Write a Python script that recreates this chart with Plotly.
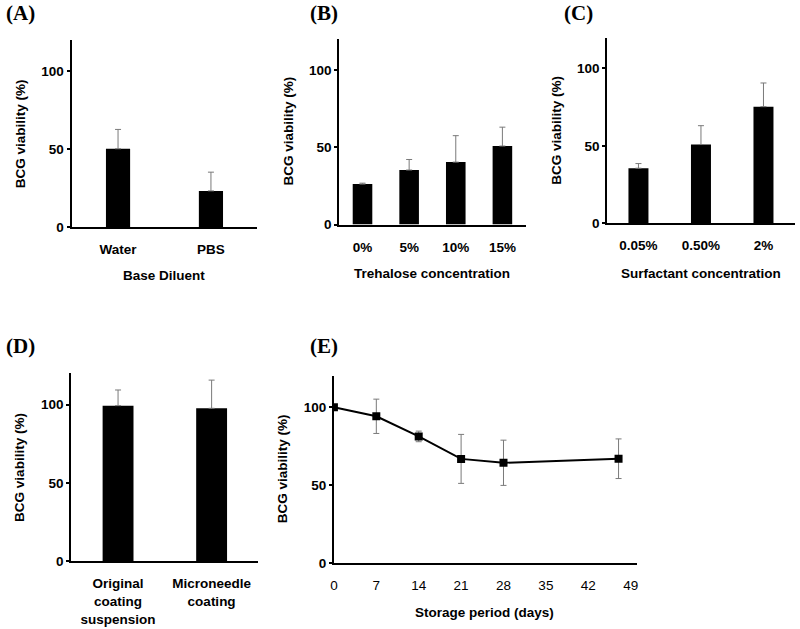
import plotly.graph_objects as go

# ---------------- data ----------------
a_cats = ["Water", "PBS"]
a_vals = [50.2, 23.2]
a_errs = [12.4, 12.0]

b_cats = ["0%", "5%", "10%", "15%"]
b_vals = [26.2, 35.3, 40.4, 50.8]
b_errs = [0.6, 6.8, 17.1, 12.2]

c_cats = ["0.05%", "0.50%", "2%"]
c_vals = [35.5, 50.8, 75.3]
c_errs = [3.0, 12.2, 15.3]

d_cats = ["Original<br>coating<br>suspension", "Microneedle<br>coating"]
d_vals = [99.4, 97.7]
d_errs = [10.0, 18.0]

e_days = [0, 7, 14, 21, 28, 47]
e_vals = [100.0, 94.2, 81.3, 66.9, 64.4, 67.0]
e_errs = [0.5, 11.0, 3.4, 15.7, 14.5, 12.7]

y_ticks = [0, 50, 100]
e_xticks = [0, 7, 14, 21, 28, 35, 42, 49]

W, H = 800, 629
SANS = "Liberation Sans, Arial, sans-serif"
SERIF = "Liberation Serif, Times New Roman, serif"
ERR_COLOR = "#7a7a7a"

def px_x(p):
    return p / W

def px_y(p):
    return 1 - p / H

fig = go.Figure()

panels = [
    ("", a_cats, a_vals, a_errs, 0.26),
    ("2", b_cats, b_vals, b_errs, 0.42),
    ("3", c_cats, c_vals, c_errs, 0.32),
    ("4", d_cats, d_vals, d_errs, 0.33),
]
for suf, cats, vals, errs, bw in panels:
    fig.add_trace(go.Bar(
        x=cats, y=vals, width=bw,
        marker=dict(color="black", line=dict(width=0)),
        error_y=dict(type="data", array=errs, arrayminus=[0] * len(errs),
                     symmetric=False, color=ERR_COLOR, thickness=1, width=3),
        xaxis="x" + suf, yaxis="y" + suf, showlegend=False,
    ))

fig.add_trace(go.Scatter(
    x=e_days, y=e_vals, mode="lines+markers",
    line=dict(color="black", width=2),
    marker=dict(symbol="square", size=8, color="black"),
    error_y=dict(type="data", array=e_errs, color=ERR_COLOR, thickness=1, width=3),
    xaxis="x5", yaxis="y5", showlegend=False,
))

# axis domains in pixels: (x_left, x_right, y_bottom(zero), y_top)
doms = {
    "": (68, 255, 230, 40.4),
    "2": (337.3, 525, 227.5, 39.5),
    "3": (607, 795.7, 226, 38),
    "4": (67.7, 256, 568.5, 378.2),
    "5": (332, 636.7, 570.5, 380.9),
}

layout = dict(
    width=W, height=H,
    margin=dict(l=0, r=0, t=0, b=0),
    paper_bgcolor="white", plot_bgcolor="white",
    showlegend=False,
)

tickfont_y = dict(family=SANS, size=13.5, color="black", weight="bold")
tickfont_x = dict(family=SANS, size=13.5, color="black", weight="bold")

for suf, (xl, xr, yb, yt) in doms.items():
    xa = dict(
        domain=[px_x(xl), px_x(xr)],
        anchor="y" + suf,
        showline=True, linewidth=2, linecolor="black",
        showgrid=False, zeroline=False, ticks="",
        ticklabelstandoff=9,
        tickfont=tickfont_x, fixedrange=True,
    )
    if suf == "5":
        xa.update(range=[0, 50], tickvals=e_xticks,
                  tickfont=dict(family=SANS, size=13.5, color="black"))
    ya = dict(
        domain=[px_y(yb), px_y(yt)],
        anchor="x" + suf,
        range=[0, 120], tickvals=y_ticks,
        showline=True, linewidth=2, linecolor="black",
        showgrid=False, zeroline=False,
        ticks="outside", ticklen=3, tickwidth=1.5, tickcolor="black",
        tickfont=tickfont_y, fixedrange=True,
    )
    layout["xaxis" + suf] = xa
    layout["yaxis" + suf] = ya

fig.update_layout(**layout)

annotations = []
# panel letters
for txt, cx, cy in [("(A)", 17, 13), ("(B)", 322, 13), ("(C)", 578, 13),
                    ("(D)", 17, 350), ("(E)", 322, 350)]:
    annotations.append(dict(
        text=txt, x=px_x(cx), y=px_y(cy), xref="paper", yref="paper",
        showarrow=False, xanchor="center", yanchor="middle",
        font=dict(family=SERIF, size=21, color="black", weight="bold"),
    ))

# y-axis titles
for cx, cy in [(16, 135), (286, 133), (556, 132), (16, 473), (281, 475)]:
    annotations.append(dict(
        text="BCG viability (%)", x=px_x(cx), y=px_y(cy),
        xref="paper", yref="paper", showarrow=False, textangle=-90,
        xanchor="center", yanchor="middle",
        font=dict(family=SANS, size=13.5, color="black", weight="bold"),
    ))

# x-axis titles
for txt, cx, cy in [("Base Diluent", 161, 279), ("Trehalose concentration", 431, 277),
                    ("Surfactant concentration", 701, 277), ("Storage period (days)", 484, 620)]:
    annotations.append(dict(
        text=txt, x=px_x(cx), y=px_y(cy), xref="paper", yref="paper",
        showarrow=False, xanchor="center", yanchor="middle",
        font=dict(family=SANS, size=13.5, color="black", weight="bold"),
    ))

fig.update_layout(annotations=annotations)

fig.write_html("out.html", config={"displayModeBar": False},
               post_script="document.body.style.margin='0';")
